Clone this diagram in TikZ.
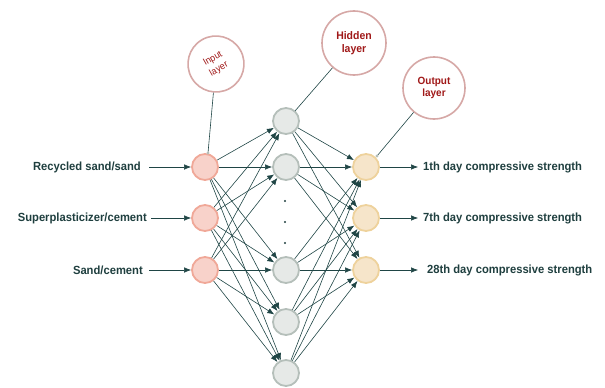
\documentclass[tikz,border=0pt]{standalone}
\usepackage{fontspec}
\setmainfont{Liberation Sans}
\newfontfamily\lblfont{Liberation Sans}[FakeStretch=0.95]
\usetikzlibrary{arrows.meta}
\definecolor{txt}{HTML}{1F3F3F}
\definecolor{edge}{HTML}{1F4545}
\definecolor{infill}{HTML}{F8D2CA}
\definecolor{indraw}{HTML}{F0A898}
\definecolor{hidfill}{HTML}{E6E9E7}
\definecolor{hiddraw}{HTML}{B5BFBA}
\definecolor{outfill}{HTML}{F6E5CA}
\definecolor{outdraw}{HTML}{EED29C}
\definecolor{lblring}{HTML}{D6A8A6}
\definecolor{lbltxt}{HTML}{A01818}
\begin{document}
\begin{tikzpicture}[x=1pt,y=-1pt,
  neuron/.style={circle,minimum size=26pt,inner sep=0pt,line width=1.8pt},
  innode/.style={neuron,fill=infill,draw=indraw},
  hidnode/.style={neuron,fill=hidfill,draw=hiddraw},
  outnode/.style={neuron,fill=outfill,draw=outdraw},
  lblcircle/.style={circle,draw=lblring,fill=white,line width=1.6pt,inner sep=0pt,text=lbltxt,font=\lblfont\fontsize{10.5}{12.5}\selectfont\bfseries,align=center},
  conn/.style={draw=edge,line width=0.6pt,-{Latex[length=7pt,width=5.5pt]}},
  lbltext/.style={text=txt,inner sep=0pt,font=\lblfont\fontsize{11.8}{13}\selectfont\bfseries},
  pin/.style={draw=edge,line width=0.6pt}
]
\useasboundingbox (0,0) rectangle (605,388);
% nodes
\node[innode] (i1) at (205,167) {};
\node[innode] (i2) at (205,218) {};
\node[innode] (i3) at (205,270) {};
\node[hidnode] (h1) at (286,121) {};
\node[hidnode] (h2) at (286,167) {};
\node[hidnode] (h3) at (286,270) {};
\node[hidnode] (h4) at (286,322) {};
\node[hidnode] (h5) at (286,373) {};
\node[outnode] (o1) at (366,167) {};
\node[outnode] (o2) at (366,218) {};
\node[outnode] (o3) at (366,270) {};
% dots
\foreach \yy [count=\k] in {201,222,243} \fill[txt] (285,\yy) circle (1.1pt) coordinate (d\k);
% edges
\foreach \i in {1,2,3} \foreach \h in {1,...,5} \draw[conn] (i\i) -- (h\h);
\foreach \h in {1,...,5} \foreach \o in {1,2,3} \draw[conn] (h\h) -- (o\o);
% input labels
\node[lbltext,anchor=east] (t1) at (141,167) {Recycled sand/sand};
\node[lbltext,anchor=east] (t2) at (147,218) {Superplasticizer/cement};
\node[lbltext,anchor=east] (t3) at (143,270) {Sand/cement};
\draw[conn] (t1.east) ++(8,0) coordinate (s1) (s1) -- (i1);
\draw[conn] (t2.east) ++(4,0) coordinate (s2) (s2) -- (i2);
\draw[conn] (t3.east) ++(6,0) coordinate (s3) (s3) -- (i3);
% output labels
\node[lbltext,anchor=west] (u1) at (423,167) {1th day compressive strength};
\node[lbltext,anchor=west] (u2) at (423,218) {7th day compressive strength};
\node[lbltext,anchor=west] (u3) at (427,270) {28th day compressive strength};
\coordinate (e1) at (418,167);
\coordinate (e2) at (418,218);
\coordinate (e3) at (418,270);
\draw[conn] (o1) -- (e1);
\draw[conn] (o2) -- (e2);
\draw[conn] (o3) -- (e3);
% layer label circles
\node[lblcircle,minimum size=56pt,rotate=30,font=\lblfont\fontsize{9.5}{12}\selectfont] (li) at (216,64) {Input\\layer};
\node[lblcircle,minimum size=64pt,font=\lblfont\fontsize{11}{13}\selectfont\bfseries] (lh) at (354,43) {Hidden\\layer};
\node[lblcircle,minimum size=62pt] (lo) at (434,88) {Output\\layer};
\coordinate (p1) at (208,153);
\coordinate (p2) at (295,111);
\coordinate (p3) at (377,156);
\draw[pin] (li) -- (p1);
\draw[pin] (lh) -- (p2);
\draw[pin] (lo) -- (p3);
\fill[hiddraw] (p1) circle (1.6pt) (p3) circle (1.6pt);
\end{tikzpicture}
\end{document}
